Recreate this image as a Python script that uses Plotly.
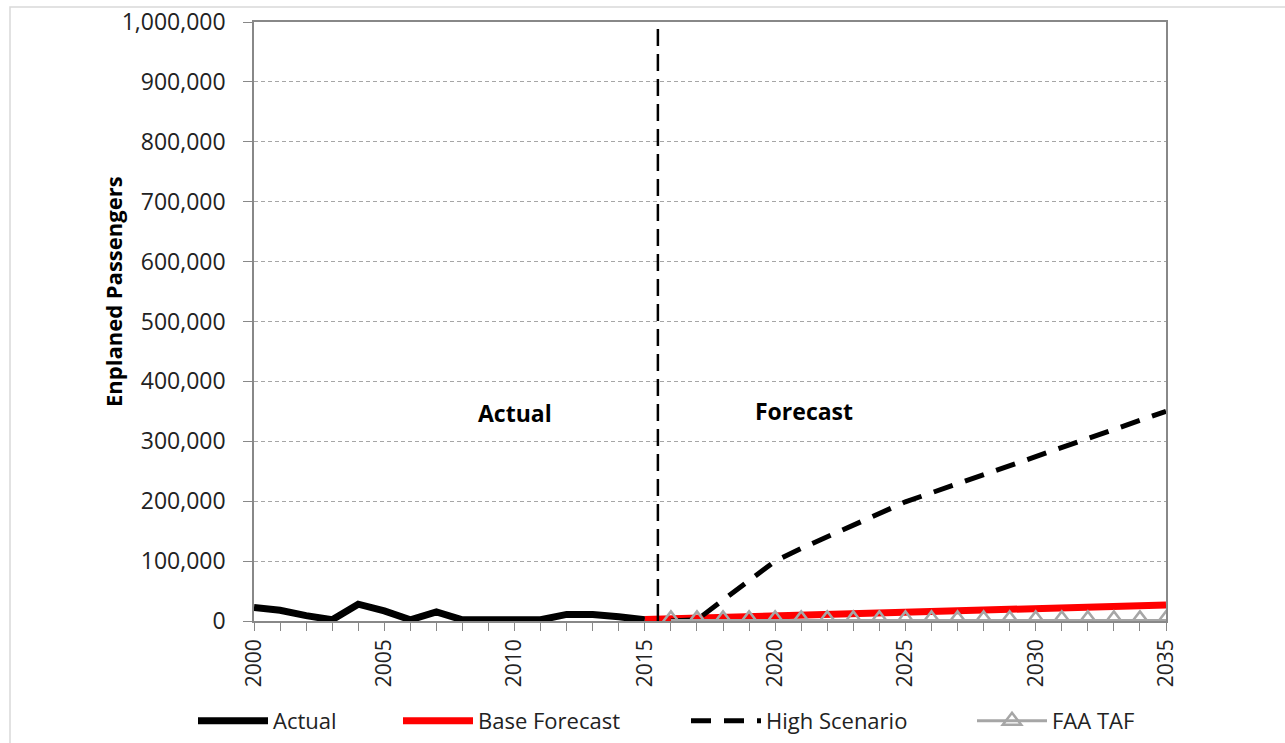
import plotly.graph_objects as go

# Historical enplanements
actual_years = list(range(2000, 2016))
actual_vals = [22500, 18000, 9000, 2000, 28000, 17000, 2000, 15000,
               2000, 2000, 2000, 2000, 11000, 11000, 7000, 2000]

# Base forecast
base_years = list(range(2015, 2036))
base_vals = [2500, 3500, 5000, 6200, 7400, 8600, 9900, 11000, 12200, 13400,
             14700, 15800, 17000, 18200, 19500, 20600, 21800, 23000, 24300,
             25400, 26800]

# High scenario
high_years = list(range(2016, 2036))
high_vals = [0, 2000, 35000, 68000, 100000, 121000, 141000, 161000, 181000,
             199000, 214000, 229000, 244000, 259000, 274000, 289000, 304000,
             319000, 334000, 350000]

# FAA Terminal Area Forecast
taf_years = list(range(2016, 2036))
taf_vals = [1000] * 20

y_ticks = list(range(0, 1000001, 100000))
x_label_years = list(range(2000, 2036, 5))

FONT = "Open Sans"

# Plot-area geometry in pixels (used to place paper-referenced items)
L, R, T, B = 254, 1166, 22, 621
PW, PH = R - L, B - T


def px_x(p):
    return (p - L) / PW


def px_y(p):
    return (B - p) / PH


fig = go.Figure()
fig.add_trace(go.Scatter(x=actual_years, y=actual_vals, mode="lines", name="Actual",
                         line=dict(color="black", width=7), legend="legend"))
fig.add_trace(go.Scatter(x=base_years, y=base_vals, mode="lines", name="Base Forecast",
                         line=dict(color="#ff0000", width=7), legend="legend2"))
fig.add_trace(go.Scatter(x=high_years, y=high_vals, mode="lines", name="High Scenario",
                         line=dict(color="black", width=5, dash="20px,13px"),
                         legend="legend3"))
fig.add_trace(go.Scatter(x=taf_years, y=taf_vals, mode="lines+markers", name="FAA TAF",
                         line=dict(color="#a6a6a6", width=3),
                         marker=dict(symbol="triangle-up-open", size=18,
                                     color="#a6a6a6", line=dict(width=2.5)),
                         legend="legend4"))

# Divider between actual and forecast periods
fig.add_shape(type="line", x0=2015.5, x1=2015.5, y0=0, y1=1000000,
              xref="x", yref="y", line=dict(color="black", width=2.5, dash="17px,8px"))

fig.add_annotation(x=2010, y=347000, text="<b>Actual</b>", showarrow=False,
                   font=dict(family=FONT, size=23, color="black"))
fig.add_annotation(x=2021.1, y=350000, text="<b>Forecast</b>", showarrow=False,
                   font=dict(family=FONT, size=23, color="black"))

# Y-axis title
fig.add_annotation(xref="paper", yref="paper", x=px_x(113), y=px_y(292),
                   xanchor="center", yanchor="middle",
                   text="<b>Enplaned Passengers</b>", textangle=-90, showarrow=False,
                   font=dict(family=FONT, size=22, color="black"))

# Outer chart frame
fig.add_shape(type="rect", xref="paper", yref="paper",
              x0=px_x(10), x1=px_x(1300), y0=px_y(760), y1=px_y(7),
              line=dict(color="#d9d9d9", width=1.5))

ITEM_W = 70


def legend_at(text_left):
    return dict(orientation="h", x=px_x(text_left - ITEM_W - 10), xanchor="left",
                y=px_y(721), yanchor="middle", bgcolor="rgba(0,0,0,0)",
                itemwidth=ITEM_W,
                font=dict(family=FONT, size=22, color="#222222"))


fig.update_layout(
    width=1285, height=743,
    margin=dict(l=L, r=1285 - R, t=T, b=743 - B, autoexpand=False),
    paper_bgcolor="white", plot_bgcolor="white",
    font=dict(family=FONT, size=20, color="#222222"),
    showlegend=True,
    legend=legend_at(273),
    legend2=legend_at(478),
    legend3=legend_at(766),
    legend4=legend_at(1052),
    xaxis=dict(range=[2000, 2035], tickmode="array", tickvals=x_label_years,
               ticktext=[str(v) for v in x_label_years], tickangle=-90,
               ticks="outside", ticklen=8, tickcolor="#888888",
               minor=dict(dtick=1, tick0=2000, ticks="outside", ticklen=8,
                          tickcolor="#888888", showgrid=False),
               showgrid=False, zeroline=False, showline=True,
               linecolor="#888888", linewidth=1.5, mirror=True,
               tickfont=dict(family=FONT, size=21, color="#222222")),
    yaxis=dict(range=[0, 1000000], tickmode="array", tickvals=y_ticks,
               ticktext=[f"{v:,}" for v in y_ticks],
               ticks="outside", ticklen=9, tickcolor="#888888", ticklabelstandoff=13,
               showgrid=True, gridcolor="#a6a6a6", griddash="4px,3px", gridwidth=1,
               zeroline=False, showline=True, linecolor="#888888", linewidth=1.5,
               mirror=True, tickfont=dict(family=FONT, size=23, color="#222222")),
)

fig.write_html("out.html")
